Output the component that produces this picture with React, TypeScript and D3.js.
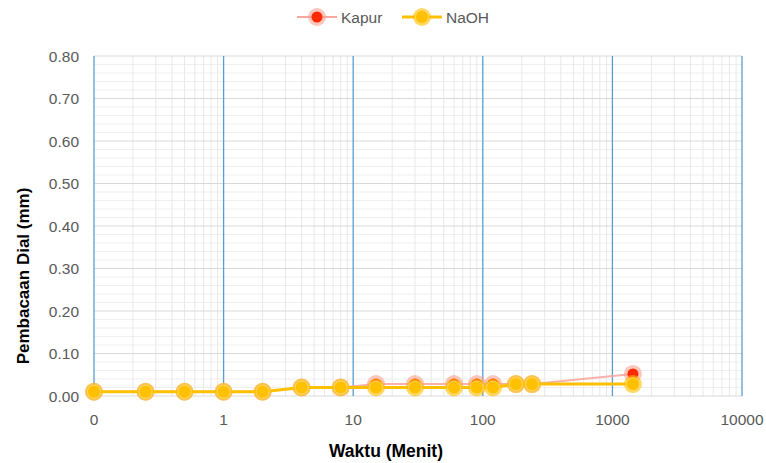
import React from "react";
import * as d3 from "d3";

// Time in minutes (the first reading, t = 0, sits on the 0.1 axis origin of the log scale)
const waktu = [0.1, 0.25, 0.5, 1, 2, 4, 8, 15, 30, 60, 90, 120, 180, 240, 1440];
// Dial readings (mm)
const kapur = [0.01, 0.01, 0.01, 0.01, 0.01, 0.02, 0.02, 0.028, 0.028, 0.028, 0.028, 0.028, 0.028, 0.028, 0.052];
const naoh = [0.01, 0.01, 0.01, 0.01, 0.01, 0.02, 0.02, 0.02, 0.02, 0.02, 0.02, 0.02, 0.028, 0.028, 0.028];

const xTicks = [0.1, 1, 10, 100, 1000, 10000];
const xTickLabels = ["0", "1", "10", "100", "1000", "10000"];
const yTicks = [0, 0.1, 0.2, 0.3, 0.4, 0.5, 0.6, 0.7, 0.8];

const W = 766;
const H = 463;
const FONT = "'Liberation Sans', Arial, sans-serif";

export default function App() {
  const x = d3.scaleLog().domain([0.1, 10000]).range([94, 742]);
  const y = d3.scaleLinear().domain([0, 0.8]).range([396, 56]);

  const minorX: number[] = [];
  for (let dec = 0.1; dec < 10000; dec *= 10) {
    for (let k = 2; k <= 9; k++) minorX.push(dec * k);
  }
  const minorY = d3.range(0, 0.8001, 0.02).filter((v) => Math.abs(v * 10 - Math.round(v * 10)) > 1e-6);

  const line = d3
    .line<number>()
    .x((_, i) => x(waktu[i]))
    .y((d) => y(d));

  const [x0, x1] = x.range();

  const kapurMarker = (cx: number, cy: number, key: string) => (
    <g key={key}>
      <circle cx={cx} cy={cy} r={9} fill="#F8A090" opacity={0.6} />
      <circle cx={cx} cy={cy} r={5.5} fill="#FF2A00" />
    </g>
  );
  const naohMarker = (cx: number, cy: number, key: string) => (
    <g key={key}>
      <circle cx={cx} cy={cy} r={9} fill="#FFC000" opacity={0.6} />
      <circle cx={cx} cy={cy} r={6.5} fill="#FFC000" stroke="#FFD966" strokeWidth={1} />
    </g>
  );

  return (
    <svg
      width={W}
      height={H}
      style={{ position: "absolute", left: 0, top: 0, background: "#fff" }}
      fontFamily={FONT}
    >
      {/* minor horizontal grid */}
      {minorY.map((v, i) => (
        <line key={"my" + i} x1={x0} x2={x1} y1={y(v)} y2={y(v)} stroke="#EFEFEF" strokeWidth={1} />
      ))}
      {/* minor vertical grid */}
      {minorX.map((v, i) => (
        <line key={"mx" + i} x1={x(v)} x2={x(v)} y1={y(0.8)} y2={y(0)} stroke="#E8E8E8" strokeWidth={1} />
      ))}
      {/* major horizontal grid */}
      {yTicks.map((v, i) => (
        <line key={"gy" + i} x1={x0} x2={x1} y1={y(v)} y2={y(v)} stroke="#D9D9D9" strokeWidth={1} />
      ))}
      {/* major vertical grid */}
      {xTicks.map((v, i) => (
        <line key={"gx" + i} x1={x(v)} x2={x(v)} y1={y(0.8)} y2={y(0)} stroke="#5B9BD5" strokeWidth={1.3} />
      ))}

      {/* y tick labels */}
      {yTicks.map((v, i) => (
        <text key={"ty" + i} x={79} y={y(v) + 5.5} textAnchor="end" fontSize={15.5} fill="#595959">
          {v.toFixed(2)}
        </text>
      ))}
      {/* x tick labels */}
      {xTicks.map((v, i) => (
        <text key={"tx" + i} x={x(v)} y={425} textAnchor="middle" fontSize={15.5} fill="#595959">
          {xTickLabels[i]}
        </text>
      ))}

      {/* axis titles */}
      <text x={386} y={457} textAnchor="middle" fontSize={17.5} fontWeight="bold" fill="#000">
        Waktu (Menit)
      </text>
      <text
        transform={`translate(29,${(y(0) + y(0.8)) / 2 + 50}) rotate(-90)`}
        textAnchor="middle"
        fontSize={17}
        fontWeight="bold"
        fill="#000"
      >
        Pembacaan Dial (mm)
      </text>

      {/* Kapur series */}
      <path d={line(kapur) ?? ""} fill="none" stroke="#F8A8A0" strokeWidth={2} opacity={0.9} />
      {kapur.map((v, i) => kapurMarker(x(waktu[i]), y(v), "k" + i))}

      {/* NaOH series */}
      <path d={line(naoh) ?? ""} fill="none" stroke="#FFC000" strokeWidth={3} />
      {naoh.map((v, i) => naohMarker(x(waktu[i]), y(v), "n" + i))}

      {/* legend */}
      <g>
        <line x1={297} x2={337} y1={17} y2={17} stroke="#F8A8A0" strokeWidth={2} />
        {kapurMarker(317, 17, "lk")}
        <text x={341} y={22.5} fontSize={15.5} fill="#595959">
          Kapur
        </text>
        <line x1={402} x2={442} y1={17} y2={17} stroke="#FFC000" strokeWidth={3} />
        {naohMarker(422, 17, "ln")}
        <text x={446} y={22.5} fontSize={15.5} fill="#595959">
          NaOH
        </text>
      </g>
    </svg>
  );
}
